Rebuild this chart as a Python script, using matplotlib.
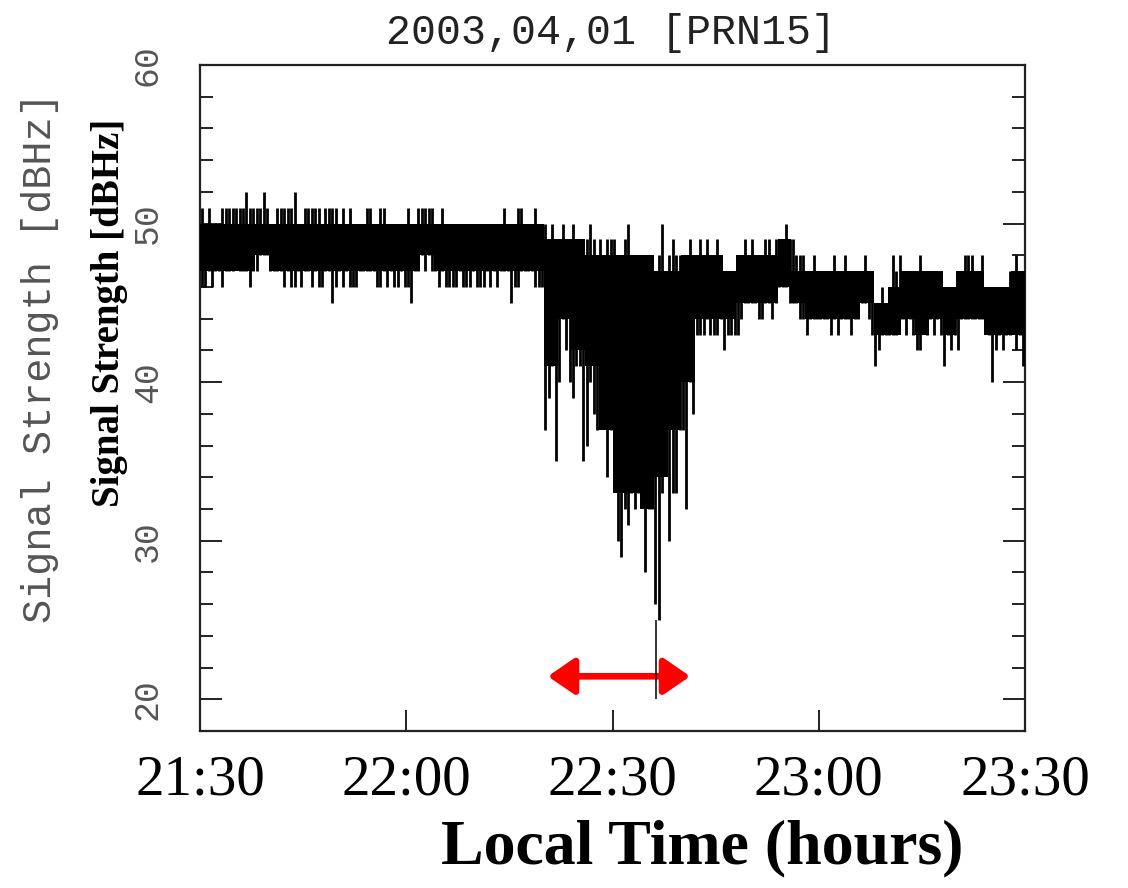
import numpy as np
import matplotlib
matplotlib.use("Agg")
import matplotlib.pyplot as plt
from matplotlib.ticker import MultipleLocator

# ---------------- data (minutes after 21:30, signal in dBHz) ----------------
bin_width = 0.5  # minutes per sample bin
# per-bin upper extreme of the signal
sig_hi = [
    51,50,51,50,50,50,51,51,51,51, 51,51,51,52,51,51,51,51,52,51,
    50,50,51,51,51,51,51,52,50,50, 51,51,51,51,51,50,51,51,51,51,
    50,51,50,51,50,50,50,50,51,51, 50,50,51,51,50,50,50,50,50,50,
    51,50,50,51,51,51,51,51,50,50, 51,50,50,50,50,50,50,50,50,50,
    50,50,50,50,49,50,50,50,51,50, 50,50,51,51,50,50,50,51,50,50,
    50,49,50,49,49,50,49,49,50,49, 49,49,49,50,49,48,49,48,49,49,
    49,48,48,49,50,48,48,48,48,48, 48,48,47,48,50,47,48,49,48,48,
    47,48,49,48,48,49,48,49,48,48, 49,48,47,47,47,47,48,48,49,48,
    49,48,48,48,49,49,48,49,49,49, 50,49,49,48,48,48,47,47,48,47,
    47,47,47,47,48,47,47,48,47,47, 47,47,47,48,47,46,45,45,46,45,
    46,48,47,48,47,47,47,47,47,48, 47,47,47,47,47,47,46,46,46,46,
    46,47,48,48,48,47,47,48,46,46, 46,46,46,46,46,47,47,48,47,46,
]
# per-bin lower extreme of the signal
sig_lo = [
    46,46,47,46,47,47,46,47,47,47, 48,47,47,47,46,47,47,48,48,48,
    47,47,47,47,46,47,46,46,47,46, 47,47,46,47,46,46,47,47,45,46,
    47,46,47,46,46,46,47,47,47,47, 47,46,46,47,46,47,46,46,47,46,
    46,45,47,47,48,47,48,47,47,46, 47,46,46,46,46,47,46,46,46,47,
    46,46,46,47,46,47,46,47,47,47, 45,46,46,47,47,47,47,46,46,46,
    37,39,41,35,40,44,42,40,39,41, 41,35,36,40,38,37,39,38,34,37,
    34,30,29,32,31,33,32,33,33,28, 32,32,26,25,33,35,30,33,33,37,
    37,32,40,38,43,43,43,44,43,43, 43,44,42,43,43,43,43,44,45,45,
    45,45,44,44,45,45,44,45,46,46, 46,45,45,45,44,44,43,44,44,44,
    44,44,44,43,44,43,44,44,44,43, 44,44,45,45,44,43,41,42,43,43,
    43,43,43,44,44,43,44,43,42,42, 44,43,44,43,44,43,41,43,42,43,
    42,44,44,44,44,44,44,44,44,43, 40,42,43,42,43,43,44,42,43,41,
]
# dense core band (2-minute blocks)
core_width = 2.0
core_hi = [50]*25 + [49,49,49,48,48,48,48,48,47,47,48] + \
    [48,48,47,48,48,48,49,47,47,47,47,47,47,45,46,47,47,47,46,47,47,46,46,47]
core_lo = [47,47,47,47,48,47,47,47,47,47, 47,47,47,47,47,47,48,47,47,47, 47,47,47,47,47] + \
    [41,44,42,41,37,33,33,32,34,37,40] + \
    [44,44,44,45,45,45,46,45,44,44,44,44,45,43,43,44,43,44,43,44,44,43,43,43]
# isolated deepest fade
deep_t = [66.3]
deep_top = [25.0]
deep_bottom = [20.0]

# scintillation interval arrow
arrow_start, arrow_end, arrow_level = 50.6, 71.3, 21.45

xtick_pos = [0, 30, 60, 90, 120]
xtick_labels = ["21:30", "22:00", "22:30", "23:00", "23:30"]
ytick_pos = [20, 30, 40, 50, 60]
ytick_labels = ["20", "30", "40", "50", "60"]

# ---------------- figure ----------------
fig = plt.figure(figsize=(11.28, 8.88), dpi=100)
ax = fig.add_axes([200/1128, 1-731/888, 825/1128, 666/888])

n = len(sig_hi)
t_centers = (np.arange(n) + 0.5) * bin_width
ax.vlines(t_centers, sig_lo, sig_hi, color="black", lw=2.0, zorder=3)

nc = len(core_hi)
t_edges = np.arange(nc + 1) * core_width
ax.fill_between(t_edges, np.append(core_lo, core_lo[-1]), np.append(core_hi, core_hi[-1]),
                step="post", color="black", lw=0, zorder=3)

ax.vlines(deep_t, deep_bottom, deep_top, color="black", lw=1.1, zorder=4)

ax.annotate("", xy=(arrow_start, arrow_level), xytext=(arrow_end, arrow_level),
            arrowprops=dict(arrowstyle="<|-|>,head_length=0.8,head_width=0.55",
                            color="#ff0000", lw=4.8, mutation_scale=20,
                            shrinkA=0, shrinkB=0), zorder=2)

ax.set_xlim(0, 120)
ax.set_ylim(18, 60)

ax.set_xticks(xtick_pos)
ax.set_xticklabels(xtick_labels, fontsize=41, family="Liberation Serif")
ax.tick_params(axis="x", direction="in", length=15, width=1.4, top=False,
               bottom=True, pad=17, color="#222222")

ax.set_yticks(ytick_pos)
ax.set_yticklabels(ytick_labels, fontsize=25, family="Liberation Mono",
                   rotation=90, color="#555555", va="center")
ax.yaxis.set_minor_locator(MultipleLocator(2))
ax.tick_params(axis="y", which="major", direction="in", length=16, width=1.4,
               left=True, right=True, pad=26, color="#222222")
ax.tick_params(axis="y", which="minor", direction="in", length=9.5, width=1.4,
               left=True, right=True, color="#222222")

for s in ax.spines.values():
    s.set_linewidth(1.6)
    s.set_color("#222222")

fig.text(611/1128, 1-33/888, "2003,04,01 [PRN15]", ha="center", va="center",
         fontsize=30, family="Liberation Mono", color="#222222")
fig.text(40/1128, 1-358/888, "Signal Strength [dBHz]", ha="center", va="center",
         rotation=90, fontsize=29, family="Liberation Mono", color="#555555")
fig.text(110/1128, 1-313/888, "Signal Strength [dBHz]", ha="center", va="center",
         rotation=90, fontsize=28, family="Liberation Serif", weight="bold")
fig.text(702/1128, 1-848/888, "Local Time (hours)", ha="center", va="center",
         fontsize=46, family="Liberation Serif", weight="bold")

fig.savefig("out.png", dpi=100, facecolor="white")
